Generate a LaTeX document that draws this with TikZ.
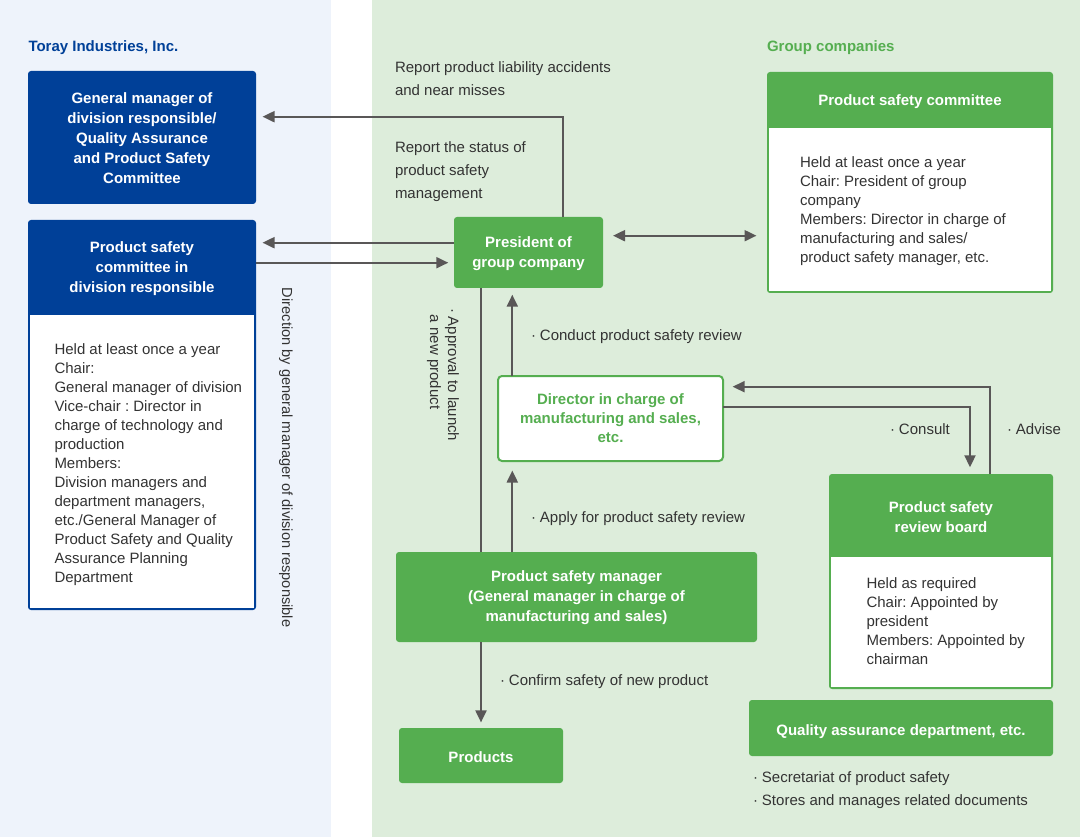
\documentclass[tikz,border=0pt]{standalone}
\usepackage{fontspec}
\setmainfont{Liberation Sans}
\usetikzlibrary{arrows.meta}
\definecolor{tblue}{RGB}{0,64,152}
\definecolor{tgreen}{RGB}{85,174,80}
\definecolor{bgblue}{RGB}{238,243,251}
\definecolor{bggreen}{RGB}{221,237,219}
\definecolor{txt}{RGB}{51,51,51}
\definecolor{arrgray}{RGB}{89,87,87}
\newcommand\bul{\makebox[11pt][l]{\hspace{2pt}·}}
\frenchspacing
\begin{document}
\begin{tikzpicture}[x=1pt,y=-1pt,
  every node/.style={inner sep=0pt, outer sep=0pt},
  fillbox/.style={anchor=north west, rounded corners=3pt},
  title/.style={font=\fontsize{15}{20}\selectfont\bfseries, text=white, align=center},
  body/.style={font=\fontsize{15}{19}\selectfont, text=txt, align=left, anchor=north west},
  lab/.style={font=\fontsize{15}{23}\selectfont, text=txt, align=left, anchor=north west},
  single/.style={font=\fontsize{15}{19}\selectfont, text=txt, anchor=base west},
  conn/.style={draw=arrgray, line width=2pt},
  arr/.style={conn, -{Triangle[length=12pt,width=11pt]}, shorten >=6.5pt},
]
\useasboundingbox (0,0) rectangle (1080,837);
\fill[white] (0,0) rectangle (1080,837);
\fill[bgblue] (0,0) rectangle (331,837);
\fill[bggreen] (372,0) rectangle (1080,837);

% headings
\node[font=\fontsize{15}{19}\selectfont\bfseries, text=tblue, anchor=base west] (toray) at (28.5,51.7) {Toray Industries, Inc.};
\node[font=\fontsize{15}{19}\selectfont\bfseries, text=tgreen, anchor=base west] (grp) at (767,51.5) {Group companies};

% Box A
\node[fillbox, fill=tblue, minimum width=228, minimum height=133] (gm) at (28,71) {};
\node[title] (gmt) at ([yshift=-2.2pt]gm.center)
  {\strut General manager of\\division responsible/\\Quality Assurance\\and Product Safety\\Committee\strut};

% Box B
\node[fillbox, fill=tblue, minimum width=228, minimum height=390] (bcom) at (28,220) {};
\node[title, anchor=north west, minimum width=228, minimum height=96.6] (bhead) at (28,220)
  {\strut Product safety\\committee in\\division responsible\strut};
\node[anchor=north west, fill=white, minimum width=224, minimum height=293] (bbody) at (30,315) {};
\node[body] (btext) at (54.5,340.7) {\strut Held at least once a year\\Chair:\\General manager of division\\Vice-chair : Director in\\charge of technology and\\production\\Members:\\Division managers and\\department managers,\\etc./General Manager of\\Product Safety and Quality\\Assurance Planning\\Department};

% Group committee
\node[fillbox, fill=tgreen, minimum width=286, minimum height=221] (gcom) at (767,72) {};
\node[title, anchor=north west, minimum width=286, minimum height=59.4] (ghead) at (767,72) {\strut Product safety committee\strut};
\node[anchor=north west, fill=white, minimum width=282, minimum height=163] (gbody) at (769,128) {};
\node[body] (gtext) at (800,154) {\strut Held at least once a year\\Chair: President of group\\company\\Members: Director in charge of\\manufacturing and sales/\\product safety manager, etc.};

% President
\node[fillbox, fill=tgreen, minimum width=149, minimum height=71] (pres) at (454,217) {};
\node[title] (prest) at ([yshift=-0.8pt]pres.center) {\strut President of\\group company\strut};

% Director
\node[anchor=north west, draw=tgreen, line width=2pt, fill=white, rounded corners=4pt,
  minimum width=225, minimum height=85] (dir) at (498,376) {};
\node[font=\fontsize{15}{19}\selectfont\bfseries, text=tgreen, align=center] (dirt) at ([yshift=-1.5pt]dir.center)
  {\strut Director in charge of\\manufacturing and sales,\\etc.\strut};

% Product safety manager
\node[fillbox, fill=tgreen, minimum width=361, minimum height=90] (psm) at (396,552) {};
\node[title] (psmt) at ([yshift=-0.7pt]psm.center)
  {\strut Product safety manager\\(General manager in charge of\\manufacturing and sales)\strut};

% Products
\node[fillbox, fill=tgreen, minimum width=164, minimum height=55] (prod) at (399,728) {};
\node[title] (prodt) at ([yshift=-2.9pt]prod.center) {\strut Products\strut};

% Review board
\node[fillbox, fill=tgreen, minimum width=224, minimum height=215] (rb) at (829,474) {};
\node[title, anchor=north west, minimum width=224, minimum height=88.8] (rhead) at (829,474) {\strut Product safety\\review board\strut};
\node[anchor=north west, fill=white, minimum width=220, minimum height=130] (rbody) at (831,557) {};
\node[body] (rtext) at (866.5,575) {\strut Held as required\\Chair: Appointed by\\president\\Members: Appointed by\\chairman};

% QA
\node[fillbox, fill=tgreen, minimum width=304, minimum height=56] (qa) at (749,700) {};
\node[title] (qat) at ([yshift=-3.7pt]qa.center) {\strut Quality assurance department, etc.\strut};

% labels
\node[lab] (lab1) at (395,56.2) {\strut Report product liability accidents\\and near misses};
\node[lab] (lab2) at (395,136.6) {\strut Report the status of\\product safety\\management};
\node[font=\fontsize{14.6}{19}\selectfont, text=txt, anchor=base west, rotate=-90] (dirlab) at (282,288)
  {Direction by general manager of division responsible};
\node[font=\fontsize{15}{18}\selectfont, text=txt, align=left, anchor=north west, rotate=-90] (applab) at (460.6,306)
  {\strut\bul Approval to launch\\\hspace*{9pt}a new product};
\node[single] (conduct) at (529,340.5) {\bul Conduct product safety review};
\node[single] (apply) at (529,522) {\bul Apply for product safety review};
\node[single] (consult) at (888,434) {\bul Consult};
\node[single] (advise) at (1005,434) {\bul Advise};
\node[single] (confirm) at (498,685.7) {\bul Confirm safety of new product};
\node[single] (sec) at (751,782.3) {\bul Secretariat of product safety};
\node[single] (stores) at (751,805) {\bul Stores and manages related documents};

% connectors
\draw[arr] ([xshift=34.8pt]pres.north) |- ([yshift=20.8pt]gm.east);
\draw[arr] ([yshift=9.8pt]pres.west) -- ([yshift=9.8pt]pres.west -| bcom.east);
\draw[arr, shorten >=5.7pt] ([yshift=-10.2pt]pres.west -| bcom.east) -- ([yshift=-10.2pt]pres.west);
\draw[conn, {Triangle[length=12pt,width=11pt]}-{Triangle[length=12pt,width=11pt]}, shorten >=10.5pt, shorten <=10pt]
  ([yshift=16.8pt]pres.east) -- ([yshift=16.8pt]pres.east -| gcom.west);
\draw[conn] ([xshift=-47.5pt]pres.south) -- ([xshift=-47.5pt]pres.south |- psm.north);
\draw[arr, shorten >=6.7pt] ([xshift=-98.2pt]dir.north) -- ([xshift=-98.2pt]dir.north |- pres.south);
\draw[arr, shorten >=9.5pt] ([xshift=-98.2pt]dir.south |- psm.north) -- ([xshift=-98.2pt]dir.south);
\draw[arr, shorten >=6.7pt] ([yshift=11.5pt]dir.east) -| ([xshift=29pt]rb.north);
\draw[arr, shorten >=9.6pt] ([xshift=49pt]rb.north) |- ([yshift=31.8pt]dir.east);
\draw[arr, shorten >=5.6pt] (psm.south -| prod.north) -- (prod.north);
\end{tikzpicture}
\end{document}
